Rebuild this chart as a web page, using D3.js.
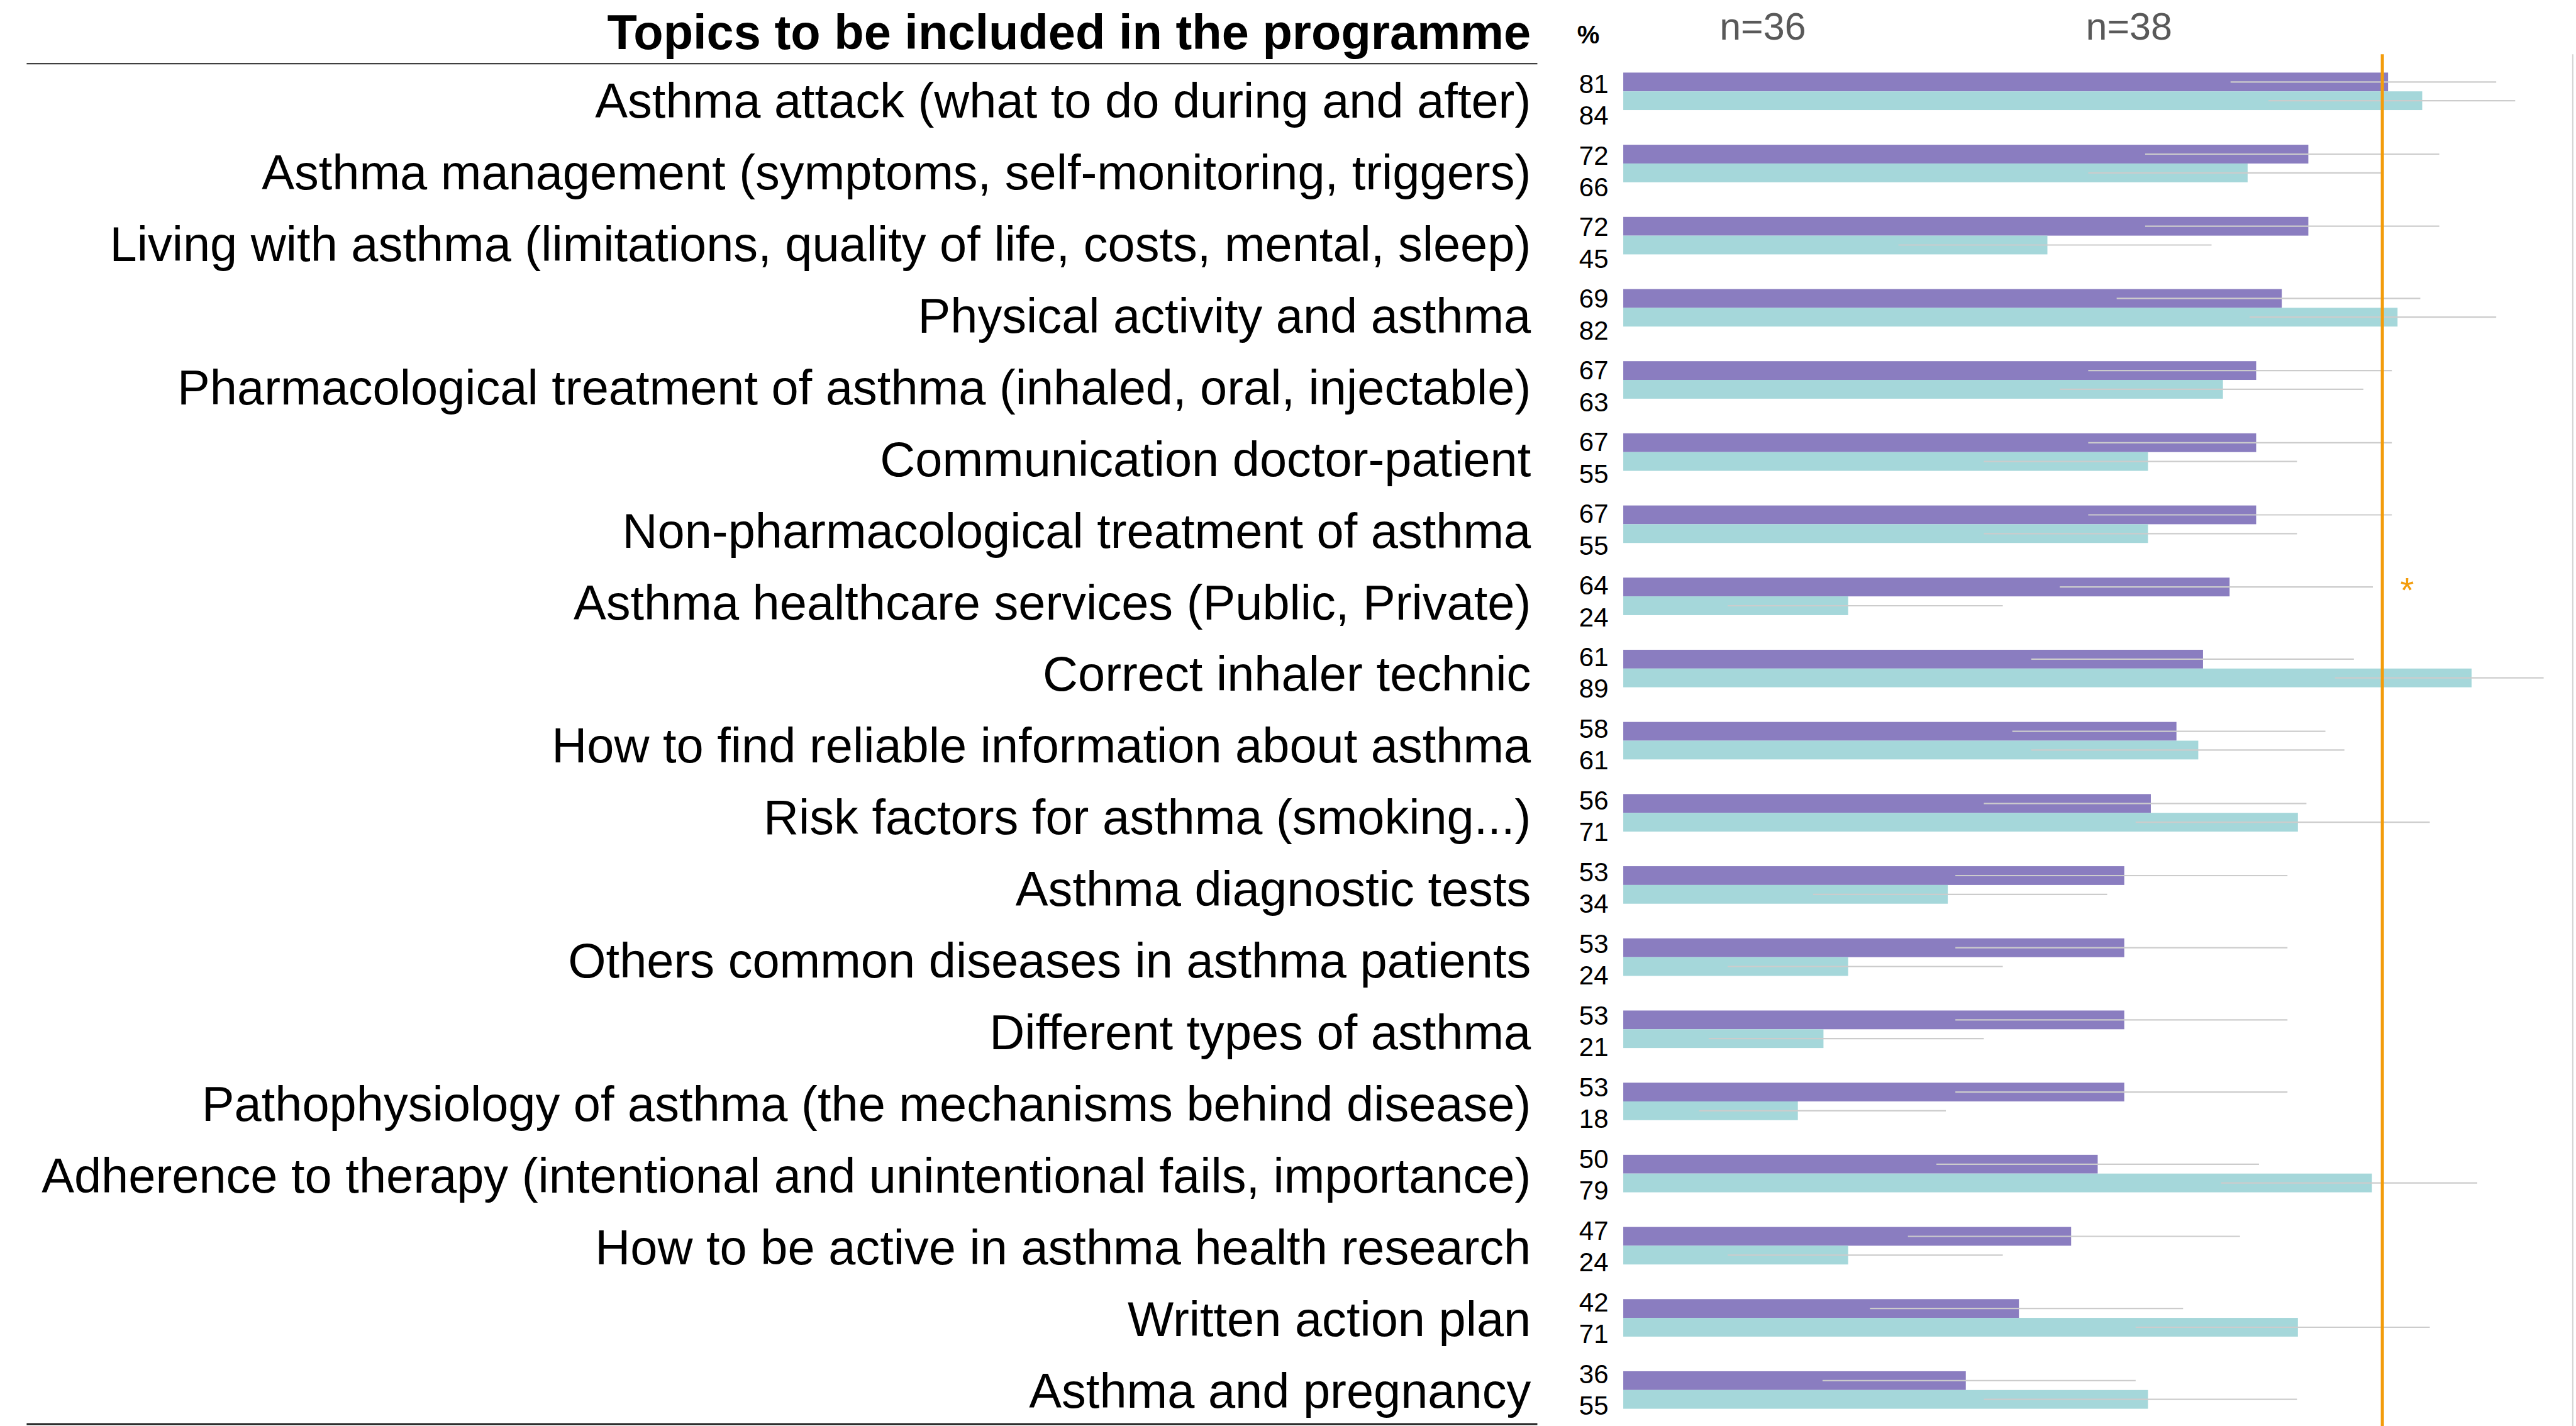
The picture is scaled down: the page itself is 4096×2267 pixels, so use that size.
<!DOCTYPE html>
<html>
<head>
<meta charset="utf-8">
<script src="https://cdn.jsdelivr.net/npm/d3@7"></script>
<style>
  html, body { margin: 0; padding: 0; background: #fff; }
  svg { display: block; }
  text { font-family: "Liberation Sans", Arial, sans-serif; }
</style>
</head>
<body>
<svg id="chart" width="4096" height="2267"></svg>
<script>
const categories = [
  "Asthma attack (what to do during and after)",
  "Asthma management (symptoms, self-monitoring, triggers)",
  "Living with asthma (limitations, quality of life, costs, mental, sleep)",
  "Physical activity and asthma",
  "Pharmacological treatment of asthma (inhaled, oral, injectable)",
  "Communication doctor-patient",
  "Non-pharmacological treatment of asthma",
  "Asthma healthcare services (Public, Private)",
  "Correct inhaler technic",
  "How to find reliable information about asthma",
  "Risk factors for asthma (smoking...)",
  "Asthma diagnostic tests",
  "Others common diseases in asthma patients",
  "Different types of asthma",
  "Pathophysiology of asthma (the mechanisms behind disease)",
  "Adherence to therapy (intentional and unintentional fails, importance)",
  "How to be active in asthma health research",
  "Written action plan",
  "Asthma and pregnancy"
];
// Group n=36 (purple)
const purpleValues = [80.6,72.2,72.2,69.4,66.7,66.7,66.7,63.9,61.1,58.3,55.6,52.8,52.8,52.8,52.8,50.0,47.2,41.7,36.1];
const purpleLow    = [64,55,55,52,49,49,49,46,43,41,38,35,35,35,35,33,30,26,21];
const purpleHigh   = [92,86,86,84,81,81,81,79,77,74,72,70,70,70,70,67,65,59,54];
// Group n=38 (teal)
const tealValues = [84.2,65.8,44.7,81.6,63.2,55.3,55.3,23.7,89.4,60.6,71.1,34.2,23.7,21.1,18.4,78.9,23.7,71.1,55.3];
const tealLow    = [68,49,29,66,46,38,38,11,75,43,54,20,11,9,8,63,11,54,38];
const tealHigh   = [94,80,62,92,78,71,71,40,97,76,85,51,40,38,34,90,40,85,71];
const groupLabels = ["n=36", "n=38"];
const groupLabelPos = [14.7, 53.3];
const threshold = 80;
const significant = [categories[7]];
const title = "Topics to be included in the programme";

const s = 0.785;
const W = 4096, H = 2267;
const svg = d3.select("#chart");
svg.append("rect").attr("width", W).attr("height", H).attr("fill", "#fff");

const x = d3.scaleLinear().domain([0, 100]).range([3288 * s, 5210 * s]);
const y = d3.scaleBand().domain(categories).range([147 * s, 2853 * s]).paddingInner(0.48).paddingOuter(0);
const ySub = d3.scaleBand().domain(["p", "t"]).range([0, y.bandwidth()]);
const labelY = d3.scalePoint().domain(categories).range([238 * s, 2851 * s]);

const colors = { p: "#8a7dc0", t: "#a5d7da" };

const rows = categories.map((c, i) => ({
  cat: c,
  p: { v: purpleValues[i], lo: purpleLow[i], hi: purpleHigh[i] },
  t: { v: tealValues[i], lo: tealLow[i], hi: tealHigh[i] }
}));

// right frame line
svg.append("line")
  .attr("x1", x(100) + 1).attr("x2", x(100) + 1)
  .attr("y1", 110 * s).attr("y2", H)
  .attr("stroke", "#d4d4d4").attr("stroke-width", 2);

// bars
const g = svg.append("g");
["p", "t"].forEach(k => {
  g.selectAll("rect.bar-" + k)
    .data(rows).enter().append("rect")
    .attr("class", "bar-" + k)
    .attr("x", x(0))
    .attr("y", d => y(d.cat) + ySub(k))
    .attr("width", d => x(d[k].v) - x(0))
    .attr("height", ySub.bandwidth())
    .attr("fill", colors[k]);
});

// error bars
["p", "t"].forEach(k => {
  g.selectAll("line.err-" + k)
    .data(rows).enter().append("line")
    .attr("class", "err-" + k)
    .attr("x1", d => x(d[k].lo))
    .attr("x2", d => x(d[k].hi))
    .attr("y1", d => y(d.cat) + ySub(k) + ySub.bandwidth() / 2)
    .attr("y2", d => y(d.cat) + ySub(k) + ySub.bandwidth() / 2)
    .attr("stroke", "#cccccc").attr("stroke-width", 2.2);
});

// threshold line
svg.append("line")
  .attr("x1", x(threshold)).attr("x2", x(threshold))
  .attr("y1", 110 * s).attr("y2", H)
  .attr("stroke", "#f39c0b").attr("stroke-width", 5);

// asterisk
svg.selectAll("text.sig").data(significant).enter().append("text")
  .attr("class", "sig")
  .attr("x", x(82.6))
  .attr("y", d => y(d) + ySub("p") + ySub.bandwidth() / 2 + 24)
  .attr("text-anchor", "middle")
  .attr("font-size", 56)
  .attr("fill", "#f39c0b")
  .text("*");

// value labels
const valX = 3258 * s;
g.selectAll("text.vp").data(rows).enter().append("text")
  .attr("x", valX).attr("y", d => labelY(d.cat) - 50 * s)
  .attr("text-anchor", "end").attr("font-size", 42).attr("fill", "#000")
  .text(d => Math.round(d.p.v));
g.selectAll("text.vt").data(rows).enter().append("text")
  .attr("x", valX).attr("y", d => labelY(d.cat) + 14 * s)
  .attr("text-anchor", "end").attr("font-size", 42).attr("fill", "#000")
  .text(d => Math.round(d.t.v));

svg.append("text")
  .attr("x", 3240 * s).attr("y", 88 * s)
  .attr("text-anchor", "end").attr("font-size", 40).attr("font-weight", "bold")
  .attr("fill", "#000").text("%");

// group labels
svg.selectAll("text.grp").data(groupLabels).enter().append("text")
  .attr("x", (d, i) => x(groupLabelPos[i]))
  .attr("y", 80 * s)
  .attr("text-anchor", "middle").attr("font-size", 61).attr("fill", "#595959")
  .text(d => d);

// category labels
const labelX = 3101 * s;
svg.selectAll("text.cat").data(categories).enter().append("text")
  .attr("x", labelX).attr("y", d => labelY(d))
  .attr("text-anchor", "end").attr("font-size", 77.6).attr("fill", "#000")
  .text(d => d);

// title
svg.append("text")
  .attr("x", labelX).attr("y", 99 * s)
  .attr("text-anchor", "end").attr("font-size", 77.6).attr("font-weight", "bold")
  .attr("fill", "#000").text(title);

// horizontal rules
svg.append("line")
  .attr("x1", 54 * s).attr("x2", 3114 * s)
  .attr("y1", 129 * s).attr("y2", 129 * s)
  .attr("stroke", "#222").attr("stroke-width", 2);
svg.append("line")
  .attr("x1", 54 * s).attr("x2", 3114 * s)
  .attr("y1", 2884 * s).attr("y2", 2884 * s)
  .attr("stroke", "#222").attr("stroke-width", 3);
</script>
</body>
</html>
